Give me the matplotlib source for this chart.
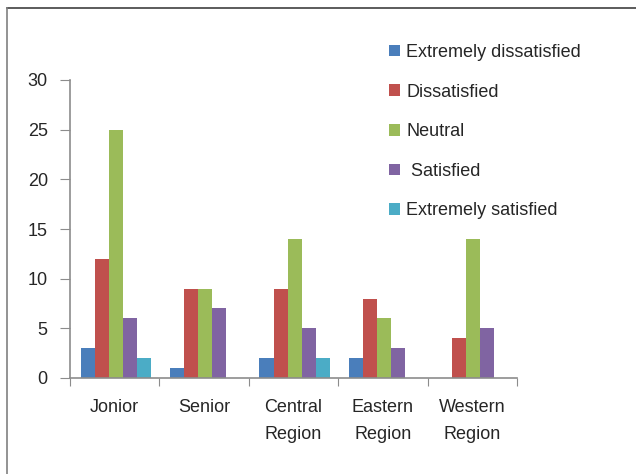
import numpy as np
import matplotlib.pyplot as plt
from matplotlib.lines import Line2D

plt.rcParams['font.family'] = ['Liberation Sans', 'DejaVu Sans']

categories = ['Jonior', 'Senior', 'Central\nRegion', 'Eastern\nRegion', 'Western\nRegion']
series = ['Extremely dissatisfied', 'Dissatisfied', 'Neutral', ' Satisfied', 'Extremely satisfied']
values = {
    'Extremely dissatisfied': [3, 1, 2, 2, 0],
    'Dissatisfied': [12, 9, 9, 8, 4],
    'Neutral': [25, 9, 14, 6, 14],
    ' Satisfied': [6, 7, 5, 3, 5],
    'Extremely satisfied': [2, 0, 2, 0, 0],
}
colors = ['#4A7EBB', '#C0504D', '#9BBB59', '#8064A2', '#4BACC6']
yticks = [0, 5, 10, 15, 20, 25, 30]

txt = '#262626'
axis_col = '#8c8c8c'

fig = plt.figure(figsize=(6.36, 4.74), dpi=100)
ax = fig.add_axes([70/636, 1 - 378/474, 447/636, 298/474])

x = np.arange(len(categories))
w = 0.157
for k, name in enumerate(series):
    ax.bar(x + (k - 2) * w + 0.012, values[name], width=w, color=colors[k],
           label=name, linewidth=0)

ax.set_xlim(-0.5, len(categories) - 0.5)
ax.set_ylim(0, 30)
ax.set_yticks(yticks)

ax.set_xticks(np.arange(len(categories) + 1) - 0.5)
ax.set_xticklabels([])
ax.set_xticks(x, minor=True)
ax.set_xticklabels(categories, minor=True, linespacing=1.75, va='top')
ax.tick_params(axis='x', which='major', direction='out', length=6, color=axis_col)
ax.tick_params(axis='x', which='minor', length=0, pad=15, labelsize=13, labelcolor=txt)
ax.tick_params(axis='y', direction='out', length=7, color=axis_col, pad=9,
               labelsize=13, labelcolor=txt)

for s in ['top', 'right']:
    ax.spines[s].set_visible(False)
for s in ['left', 'bottom']:
    ax.spines[s].set_color(axis_col)
    ax.spines[s].set_linewidth(1.2)

fig.legend(loc='upper left', bbox_to_anchor=(389/636, 1 - 44/474), frameon=False,
           fontsize=13, labelcolor=txt, handlelength=0.6, handleheight=0.6,
           handletextpad=0.35, labelspacing=1.25, borderpad=0, borderaxespad=0)

fig.add_artist(Line2D([7/636, 1], [1 - 8/474, 1 - 8/474], color='#404040', lw=1.2))
fig.add_artist(Line2D([7/636, 7/636], [0, 1 - 8/474], color='#808080', lw=1.2))

fig.savefig('out.png', dpi=100)
